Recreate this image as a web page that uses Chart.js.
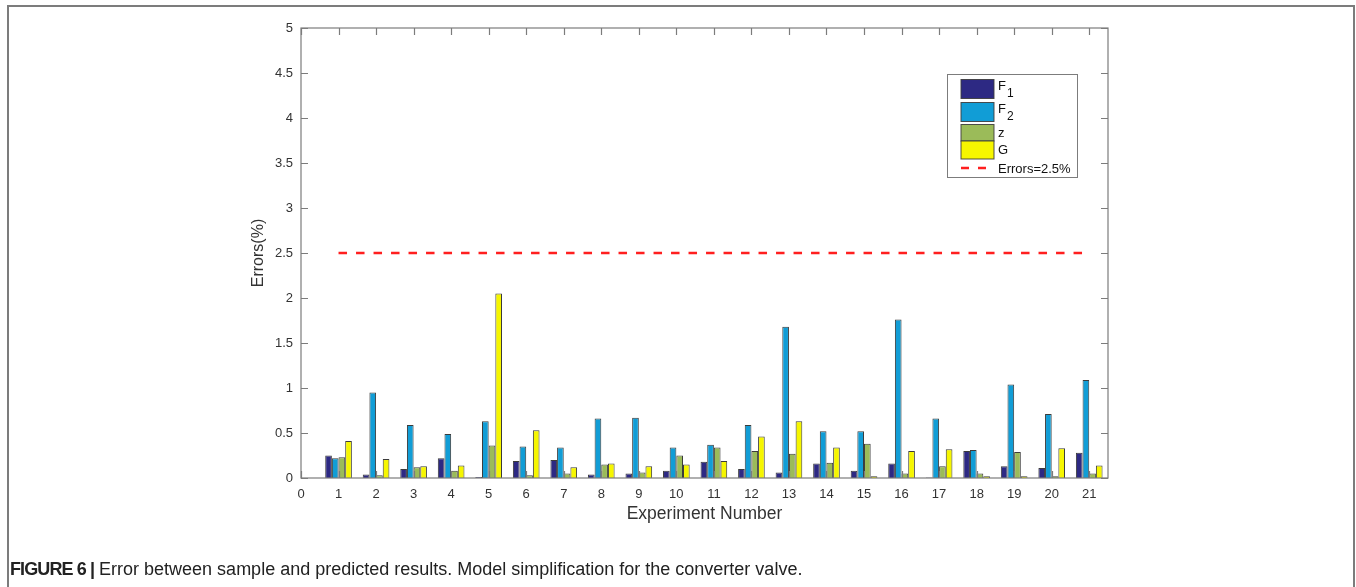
<!DOCTYPE html>
<html>
<head>
<meta charset="utf-8">
<script src="https://cdn.jsdelivr.net/npm/chart.js@4.4.0/dist/chart.umd.min.js"></script>
<style>
  html, body { margin: 0; padding: 0; background: #fff; }
  #wrap { position: relative; width: 1356px; height: 587px; overflow: hidden; }
  #frame { position: absolute; left: 7px; top: 5px; width: 1344px; height: 640px;
           border: 2px solid #7c7c7c; border-bottom: none; }
  #chart { position: absolute; left: 0; top: 0; }
  #cap { position: absolute; left: 10px; top: 559px; font-family: "Liberation Sans", Arial, sans-serif;
         font-size: 18px; color: #222; white-space: nowrap; }
  #cap b { font-weight: bold; letter-spacing: -0.9px; }
</style>
</head>
<body>
<div id="wrap">
  <div id="frame"></div>
  <canvas id="chart" width="1356" height="587"></canvas>
  <div id="cap"><b>FIGURE 6 |</b> Error between sample and predicted results. Model simplification for the converter valve.</div>
</div>
<script>
// ---- data ----
const experiments = [1, 2, 3, 4, 5, 6, 7, 8, 9, 10, 11, 12, 13, 14, 15, 16, 17, 18, 19, 20, 21];
const f1Errors = [0.25, 0.04, 0.10, 0.22, 0.01, 0.19, 0.20, 0.04, 0.05, 0.08, 0.18, 0.10, 0.06, 0.16, 0.08, 0.16, 0.005, 0.30, 0.13, 0.11, 0.28];
const f2Errors = [0.22, 0.95, 0.59, 0.49, 0.63, 0.35, 0.34, 0.66, 0.67, 0.34, 0.37, 0.59, 1.68, 0.52, 0.52, 1.76, 0.66, 0.31, 1.04, 0.71, 1.09];
const zErrors  = [0.23, 0.03, 0.12, 0.08, 0.36, 0.03, 0.05, 0.15, 0.06, 0.25, 0.34, 0.30, 0.27, 0.17, 0.38, 0.05, 0.13, 0.05, 0.29, 0.02, 0.05];
const gErrors  = [0.41, 0.21, 0.13, 0.14, 2.05, 0.53, 0.12, 0.16, 0.13, 0.15, 0.19, 0.46, 0.63, 0.34, 0.02, 0.30, 0.32, 0.02, 0.02, 0.33, 0.14];
const thresholdValue = 2.5;
const thresholdRange = [1, 21];
const xTickValues = [0, 1, 2, 3, 4, 5, 6, 7, 8, 9, 10, 11, 12, 13, 14, 15, 16, 17, 18, 19, 20, 21];
const yTickValues = [0, 0.5, 1, 1.5, 2, 2.5, 3, 3.5, 4, 4.5, 5];
const seriesNames = ['F1', 'F2', 'z', 'G'];
const thresholdLabel = 'Errors=2.5%';
const xTitle = 'Experiment Number';
const yTitle = 'Errors(%)';

const colors = ['#2d2983', '#119dd6', '#9bbb59', '#f6f600'];
const FONT = '"Liberation Sans", Arial, sans-serif';
const TXT = '#333333';
const AXC = '#7c7c7c';

const toPts = arr => experiments.map((e, i) => ({ x: e, y: arr[i] }));

const barDs = (label, arr, c) => ({
  type: 'bar', label, data: toPts(arr), backgroundColor: c,
  borderColor: 'rgba(25,25,25,0.85)', borderWidth: 1,
  categoryPercentage: 0.71, barPercentage: 1.0, order: 2
});

const decor = {
  id: 'decor',
  afterDatasetsDraw(chart) {
    const { ctx, chartArea: a, scales: { x, y } } = chart;
    ctx.save();
    ctx.strokeStyle = AXC; ctx.lineWidth = 1.2;
    ctx.strokeRect(a.left, a.top, a.right - a.left, a.bottom - a.top);
    const L = 7;
    ctx.beginPath();
    yTickValues.forEach(v => {
      const py = Math.round(y.getPixelForValue(v)) + 0.5;
      ctx.moveTo(a.left, py); ctx.lineTo(a.left + L, py);
      ctx.moveTo(a.right, py); ctx.lineTo(a.right - L, py);
    });
    xTickValues.forEach(v => {
      const px = Math.round(x.getPixelForValue(v)) + 0.5;
      ctx.moveTo(px, a.bottom); ctx.lineTo(px, a.bottom - L);
      ctx.moveTo(px, a.top); ctx.lineTo(px, a.top + L);
    });
    ctx.stroke();

    ctx.fillStyle = TXT;
    ctx.font = '17.5px ' + FONT;
    ctx.textAlign = 'center'; ctx.textBaseline = 'middle';
    ctx.fillText(xTitle, (a.left + a.right) / 2, 514);
    ctx.save();
    ctx.translate(259, (a.top + a.bottom) / 2);
    ctx.rotate(-Math.PI / 2);
    ctx.font = '16px ' + FONT;
    ctx.fillText(yTitle, 0, 0);
    ctx.restore();

    const bx = 947, by = 74, bw = 130, bh = 103;
    ctx.fillStyle = '#fff';
    ctx.fillRect(bx, by, bw, bh);
    ctx.strokeStyle = AXC; ctx.lineWidth = 1;
    ctx.strokeRect(bx + 0.5, by + 0.5, bw, bh);
    const rows = [[79.5, 98.5], [102.5, 121.5], [124.5, 141], [141, 159]];
    ctx.textAlign = 'left'; ctx.textBaseline = 'alphabetic';
    rows.forEach((r, i) => {
      ctx.fillStyle = colors[i];
      ctx.fillRect(961, r[0], 33, r[1] - r[0]);
      ctx.strokeStyle = 'rgba(60,60,60,0.9)'; ctx.lineWidth = 1;
      ctx.strokeRect(961, r[0], 33, r[1] - r[0]);
      ctx.fillStyle = '#111';
      const name = seriesNames[i];
      const cy = (r[0] + r[1]) / 2;
      if (name.length > 1) {
        ctx.font = '13px ' + FONT;
        ctx.fillText(name[0], 998, cy + 1);
        const w = ctx.measureText(name[0]).width;
        ctx.font = '12px ' + FONT;
        ctx.fillText(name.slice(1), 998 + w + 1, cy + 8);
      } else {
        ctx.font = '13px ' + FONT;
        ctx.fillText(name, 998, cy + 4);
      }
    });
    ctx.strokeStyle = '#ff1f1f'; ctx.lineWidth = 2.5;
    ctx.setLineDash([8, 9]);
    ctx.beginPath(); ctx.moveTo(961, 168); ctx.lineTo(994, 168); ctx.stroke();
    ctx.setLineDash([]);
    ctx.fillStyle = '#111'; ctx.font = '13px ' + FONT;
    ctx.fillText(thresholdLabel, 998, 172.5);
    ctx.restore();
  }
};

new Chart(document.getElementById('chart'), {
  type: 'bar',
  data: {
    datasets: [
      barDs(seriesNames[0], f1Errors, colors[0]),
      barDs(seriesNames[1], f2Errors, colors[1]),
      barDs(seriesNames[2], zErrors, colors[2]),
      barDs(seriesNames[3], gErrors, colors[3]),
      {
        type: 'line', label: thresholdLabel,
        data: thresholdRange.map(v => ({ x: v, y: thresholdValue })),
        borderColor: '#ff1f1f', borderWidth: 2.6, borderDash: [8.5, 9],
        pointRadius: 0, fill: false, order: 1
      }
    ]
  },
  options: {
    responsive: false,
    animation: false,
    layout: { padding: { top: 28, right: 248, left: 0, bottom: 0 } },
    plugins: { legend: { display: false }, tooltip: { enabled: false } },
    scales: {
      x: {
        type: 'linear', min: 0, max: 21.5, offset: false,
        grid: { display: false, drawTicks: false },
        border: { display: false },
        afterBuildTicks: s => { s.ticks = xTickValues.map(v => ({ value: v })); },
        afterFit: s => { s.height = 109; },
        ticks: { autoSkip: false, maxRotation: 0, padding: 9, color: TXT, font: { family: FONT, size: 13 },
                 callback: v => String(v) }
      },
      y: {
        type: 'linear', min: 0, max: 5,
        grid: { display: false, drawTicks: false },
        border: { display: false },
        afterBuildTicks: s => { s.ticks = yTickValues.map(v => ({ value: v })); },
        afterFit: s => { s.width = 301; },
        ticks: { padding: 8, color: TXT, font: { family: FONT, size: 13 },
                 callback: v => String(v) }
      }
    }
  },
  plugins: [decor]
});
</script>
</body>
</html>
